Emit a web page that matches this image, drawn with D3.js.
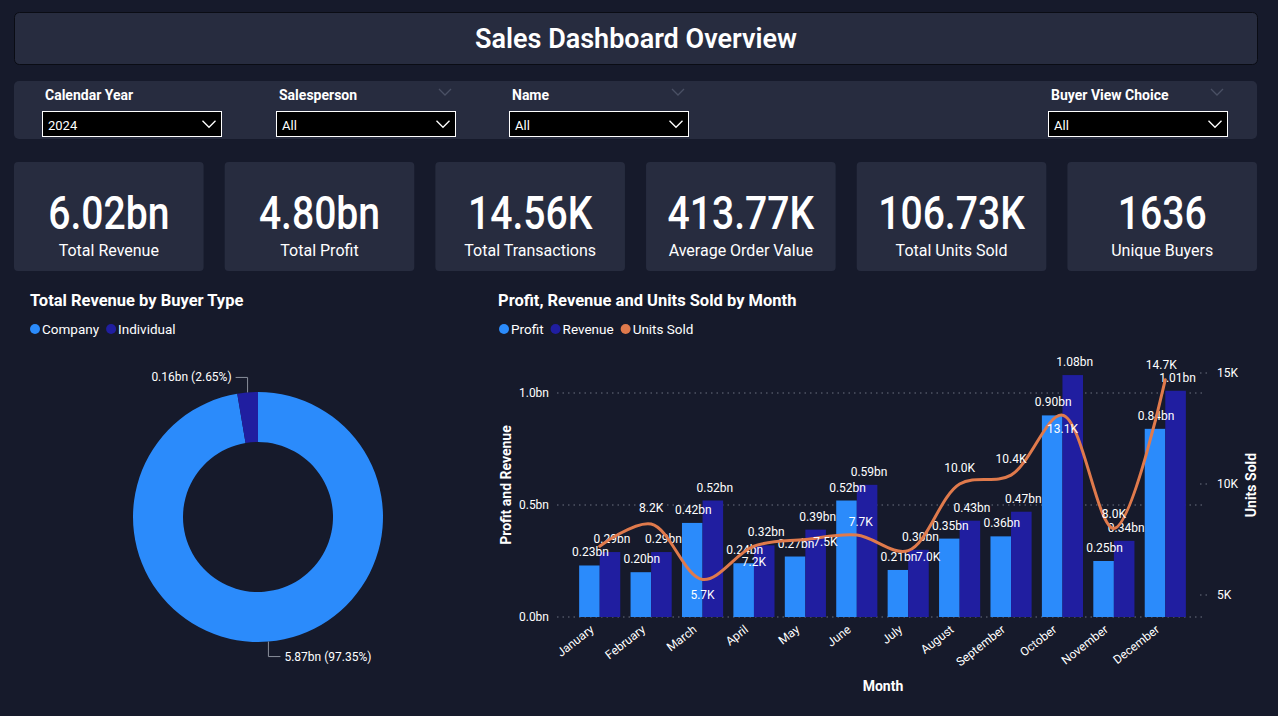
<!DOCTYPE html>
<html lang="en">
<head>
  <meta charset="UTF-8">
  <title>Sales Dashboard Overview</title>
  <style>
    body { margin: 0; background: #161a2b; }
    svg { display: block; font-family: Roboto, "Noto Sans", sans-serif; }
  </style>
</head>
<body>
<svg width="1278" height="716"></svg>

<script src="https://cdn.jsdelivr.net/npm/d3@7/dist/d3.min.js"></script>
<script>
  // ---- data ----
  var filterNames = ['Calendar Year', 'Salesperson', 'Name', 'Buyer View Choice'];
  var filterValues = ['2024', 'All', 'All', 'All'];

  var kpiValues = ['6.02bn', '4.80bn', '14.56K', '413.77K', '106.73K', '1636'];
  var kpiNames = ['Total Revenue', 'Total Profit', 'Total Transactions', 'Average Order Value', 'Total Units Sold', 'Unique Buyers'];

  var buyerTypes = ['Company', 'Individual'];
  var buyerRevenue = [5.87, 0.16];      // bn
  var buyerShare = [97.35, 2.65];       // %

  var months = ['January', 'February', 'March', 'April', 'May', 'June', 'July', 'August', 'September', 'October', 'November', 'December'];
  var profit = [0.23, 0.20, 0.42, 0.24, 0.27, 0.52, 0.21, 0.35, 0.36, 0.90, 0.25, 0.84];   // bn
  var revenue = [0.29, 0.29, 0.52, 0.32, 0.39, 0.59, 0.30, 0.43, 0.47, 1.08, 0.34, 1.01];  // bn
  var unitsSold = [7.2, 8.2, 5.7, 7.2, 7.5, 7.7, 7.0, 10.0, 10.4, 13.1, 8.0, 14.7];        // K
  var leftTicks = [0, 0.5, 1.0];
  var rightTicks = [5, 10, 15];

  var cProfit = '#2b8bfb', cRevenue = '#201ea0', cUnits = '#e07a4c';
  var panel = '#272c3f';

  var svg = d3.select('svg');

  // ---- header ----
  svg.append('rect').attr('x', 14.5).attr('y', 12.5).attr('width', 1243).attr('height', 52)
    .attr('rx', 5).attr('fill', panel).attr('stroke', '#0a0c14');
  svg.append('text').attr('x', 636).attr('y', 48).attr('text-anchor', 'middle')
    .attr('fill', '#fff').attr('font-size', 27).attr('font-weight', 600)
    .text('Sales Dashboard Overview');

  // ---- filter bar ----
  svg.append('rect').attr('x', 14).attr('y', 81).attr('width', 1243).attr('height', 58)
    .attr('rx', 5).attr('fill', panel);
  var filterX = [42, 276, 509, 1048];
  function chevron(g, x, y, w, col) {
    g.append('path').attr('d', `M${x - w},${y - w / 2}L${x},${y + w / 2}L${x + w},${y - w / 2}`)
      .attr('fill', 'none').attr('stroke', col).attr('stroke-width', 1.3);
  }
  filterNames.forEach(function (n, i) {
    var g = svg.append('g');
    var x = filterX[i];
    g.append('text').attr('x', x + 3).attr('y', 100).attr('fill', '#fff')
      .attr('font-size', 14).attr('font-weight', 700).text(n);
    if (i > 0) chevron(g, x + 169, 92, 6, '#4a5064');
    g.append('rect').attr('x', x + 0.5).attr('y', 111.5).attr('width', 179).attr('height', 25)
      .attr('fill', '#000').attr('stroke', '#fff');
    g.append('text').attr('x', x + 6).attr('y', 130).attr('fill', '#fff')
      .attr('font-size', 13).text(filterValues[i]);
    chevron(g, x + 167, 124, 6.5, '#fff');
  });

  // ---- KPI cards ----
  var kpiX = d3.scaleBand().domain(d3.range(kpiValues.length)).range([14, 1257]).paddingInner(0.1);
  var cards = svg.selectAll('.kpi').data(kpiValues).enter().append('g').attr('class', 'kpi')
    .attr('transform', function (d, i) { return `translate(${kpiX(i)},162)`; });
  cards.append('rect').attr('width', kpiX.bandwidth()).attr('height', 109).attr('rx', 4).attr('fill', panel);
  // condensed look of the big numbers
  cards.append('text').attr('transform', `translate(${kpiX.bandwidth() / 2},67) scale(0.85,1)`)
    .attr('text-anchor', 'middle').attr('fill', '#fff').attr('font-size', 46).attr('font-weight', 500)
    .text(function (d) { return d; });
  cards.append('text').attr('x', kpiX.bandwidth() / 2).attr('y', 94).attr('text-anchor', 'middle')
    .attr('fill', '#fff').attr('font-size', 16)
    .text(function (d, i) { return kpiNames[i]; });

  // ---- chart titles & legends ----
  function title(x, t) {
    svg.append('text').attr('x', x).attr('y', 306).attr('fill', '#fff').attr('font-size', 16.5)
      .attr('font-weight', 700).text(t);
  }
  function legend(x, names, cols) {
    var cx = x;
    names.forEach(function (n, i) {
      svg.append('circle').attr('cx', cx + 5).attr('cy', 329).attr('r', 5).attr('fill', cols[i]);
      var t = svg.append('text').attr('x', cx + 12).attr('y', 334).attr('fill', '#fff')
        .attr('font-size', 13.5).text(n);
      cx += 12 + t.node().getComputedTextLength() + 7;
    });
  }
  title(30, 'Total Revenue by Buyer Type');
  legend(30, buyerTypes, [cProfit, cRevenue]);
  title(498, 'Profit, Revenue and Units Sold by Month');
  legend(499, ['Profit', 'Revenue', 'Units Sold'], [cProfit, cRevenue, cUnits]);

  // ---- donut ----
  var cx = 258, cy = 517, outerR = 125, innerR = 75;
  var pie = d3.pie().sort(null);
  var arc = d3.arc().innerRadius(innerR).outerRadius(outerR);
  var pieData = pie(buyerRevenue);
  var dg = svg.append('g').attr('transform', `translate(${cx},${cy})`);
  dg.selectAll('path').data(pieData).enter().append('path').attr('d', arc)
    .attr('fill', function (d, i) { return i === 0 ? cProfit : cRevenue; });
  pieData.forEach(function (d, i) {
    var a = (d.startAngle + d.endAngle) / 2;
    var px = Math.sin(a) * outerR, py = -Math.cos(a) * outerR;
    var up = py < 0;
    var ey = py + (up ? -15 : 15);
    var dir = Math.sin(a) < 0 ? -1 : 1;
    var ex = px + dir * 12;
    dg.append('path').attr('d', `M${px},${py}L${px},${ey}L${ex},${ey}`)
      .attr('fill', 'none').attr('stroke', '#8a8f9c').attr('stroke-width', 1);
    dg.append('text').attr('x', ex + dir * 4).attr('y', ey + 4)
      .attr('text-anchor', dir < 0 ? 'end' : 'start').attr('fill', '#fff').attr('font-size', 12)
      .text(buyerRevenue[i].toFixed(2) + 'bn (' + buyerShare[i].toFixed(2) + '%)');
  });

  // ---- combo chart ----
  var x = d3.scaleBand().domain(months).range([574, 1191]).paddingInner(0.2).paddingOuter(0.1);
  var xs = d3.scaleBand().domain(['profit', 'revenue']).range([0, x.bandwidth()]);
  var yL = d3.scaleLinear().domain([0, 1.2]).range([617, 348.2]);
  var yR = d3.scaleLinear().domain([5, 15]).range([595, 373]);
  var gridX0 = 557, gridX1 = 1205;

  var cg = svg.append('g');
  cg.selectAll('.grid').data(leftTicks).enter().append('line')
    .attr('x1', gridX0).attr('x2', gridX1).attr('y1', function (d) { return yL(d); }).attr('y2', function (d) { return yL(d); })
    .attr('stroke', '#6b7080').attr('stroke-width', 1.2).attr('stroke-dasharray', '1.5,4');
  cg.selectAll('.lt').data(leftTicks).enter().append('text')
    .attr('x', 549).attr('y', function (d) { return yL(d) + 4; }).attr('text-anchor', 'end')
    .attr('fill', '#fff').attr('font-size', 12).text(function (d) { return d.toFixed(1) + 'bn'; });
  cg.selectAll('.rtick').data(rightTicks).enter().append('line')
    .attr('x1', 1200).attr('x2', 1211).attr('y1', function (d) { return yR(d); }).attr('y2', function (d) { return yR(d); })
    .attr('stroke', '#6b7080').attr('stroke-width', 1.2).attr('stroke-dasharray', '1.5,4');
  cg.selectAll('.rt').data(rightTicks).enter().append('text')
    .attr('x', 1217).attr('y', function (d) { return yR(d) + 4; })
    .attr('fill', '#fff').attr('font-size', 12).text(function (d) { return d + 'K'; });

  // bars
  var mg = cg.selectAll('.month').data(months).enter().append('g')
    .attr('transform', function (d) { return `translate(${x(d)},0)`; });
  mg.append('rect').attr('x', xs('profit')).attr('width', xs.bandwidth())
    .attr('y', function (d, i) { return yL(profit[i]); })
    .attr('height', function (d, i) { return yL(0) - yL(profit[i]); }).attr('fill', cProfit);
  mg.append('rect').attr('x', xs('revenue')).attr('width', xs.bandwidth())
    .attr('y', function (d, i) { return yL(revenue[i]); })
    .attr('height', function (d, i) { return yL(0) - yL(revenue[i]); }).attr('fill', cRevenue);

  // line
  var line = d3.line().x(function (d, i) { return x(months[i]) + x.bandwidth() / 2; })
    .y(function (d) { return yR(d); }).curve(d3.curveCatmullRom.alpha(0.5));
  cg.append('path').datum(unitsSold).attr('d', line).attr('fill', 'none')
    .attr('stroke', cUnits).attr('stroke-width', 3).attr('stroke-linecap', 'round');

  // bar labels
  mg.append('text').attr('text-anchor', 'middle').attr('fill', '#fff').attr('font-size', 12)
    .attr('x', xs('profit') + xs.bandwidth() / 2 + 1).attr('y', function (d, i) { return yL(profit[i]) - 9; })
    .text(function (d, i) { return profit[i].toFixed(2) + 'bn'; });
  mg.append('text').attr('text-anchor', 'middle').attr('fill', '#fff').attr('font-size', 12)
    .attr('x', xs('revenue') + xs.bandwidth() / 2 + 2).attr('y', function (d, i) { return yL(revenue[i]) - 9; })
    .text(function (d, i) { return revenue[i].toFixed(2) + 'bn'; });

  // unit labels: placement relative to the point (dx, dy); null = hidden by overlap
  var unitPlace = [null, [0, -12], [0, 20], [0, 20], [20, 6], [4, -9], [20, 10], [0, -12], [0, -12], [0, 18], [0, -10], [-4, -11]];
  unitsSold.forEach(function (u, i) {
    var p = unitPlace[i];
    if (!p) return;
    cg.append('text').attr('text-anchor', 'middle').attr('fill', '#fff').attr('font-size', 12)
      .attr('x', x(months[i]) + x.bandwidth() / 2 + p[0]).attr('y', yR(u) + p[1])
      .text(u.toFixed(1) + 'K');
  });

  // x axis labels
  mg.append('text').attr('text-anchor', 'end').attr('fill', '#fff').attr('font-size', 12)
    .attr('transform', `translate(${x.bandwidth() / 2 - 5},631) rotate(-38)`)
    .text(function (d) { return d; });

  // axis titles
  svg.append('text').attr('transform', 'translate(511,485) rotate(-90)').attr('text-anchor', 'middle')
    .attr('fill', '#fff').attr('font-size', 14).attr('font-weight', 700)
    .text('Profit and Revenue');
  svg.append('text').attr('transform', 'translate(1256,485) rotate(-90)').attr('text-anchor', 'middle')
    .attr('fill', '#fff').attr('font-size', 14).attr('font-weight', 700)
    .text('Units Sold');
  svg.append('text').attr('x', 883).attr('y', 691).attr('text-anchor', 'middle')
    .attr('fill', '#fff').attr('font-size', 14).attr('font-weight', 700)
    .text('Month');
</script>
</body>
</html>
